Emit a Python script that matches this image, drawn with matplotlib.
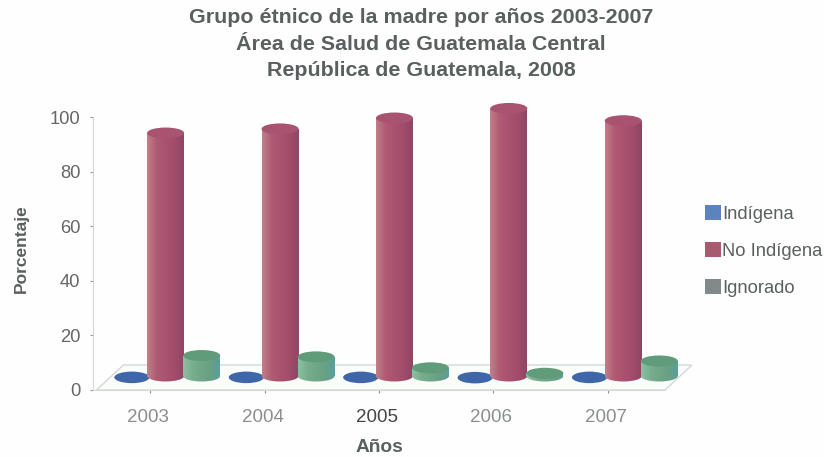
import matplotlib
matplotlib.use("Agg")
import matplotlib.pyplot as plt
import numpy as np
from matplotlib.colors import LinearSegmentedColormap
from matplotlib.patches import Ellipse, Polygon, Rectangle
from matplotlib.transforms import ScaledTranslation

years = ["2003", "2004", "2005", "2006", "2007"]
indigena = [0.5, 0.5, 0.5, 0.4, 0.5]
no_indigena = [89.0, 90.5, 94.5, 98.0, 93.5]
ignorado = [7.5, 7.0, 3.0, 1.0, 5.5]
yticks = [0, 20, 40, 60, 80, 100]
title = "Grupo étnico de la madre por años 2003-2007\nÁrea de Salud de Guatemala Central\nRepública de Guatemala, 2008"

plt.rcParams["font.family"] = ["Liberation Sans", "DejaVu Sans"]
W, H = 824, 457
fig = plt.figure(figsize=(W / 100, H / 100), dpi=100, facecolor="#fefefe")
ax = fig.add_axes([93 / W, 1 - 390 / H, 572 / W, 273 / H], facecolor="none")
ax.set_xlim(-0.5, 4.5)
ax.set_ylim(0, 100)
xpx = 572 / 5
ypx = 2.73

# floor of the 3D box
dx, dy = 27 / xpx, 25 / ypx
ax.add_patch(Polygon([(-0.47, 0), (4.5, 0), (4.5 + dx, dy), (-0.47 + dx, dy)], closed=True,
                     fc="#fbfdfb", ec="#d3dad6", lw=1.0, clip_on=False, zorder=1))

base = 14 / ypx   # bars stand part way into the floor depth
width = 37 / xpx
ell_h = 11 / ypx


def cylinder(xc, value, stops, top, z):
    cmap = LinearSegmentedColormap.from_list("c", stops)
    grad = np.linspace(0, 1, 64).reshape(1, -1)
    left, right = xc - width / 2, xc + width / 2
    y1 = base + value
    body = Rectangle((left, base), width, value, transform=ax.transData)
    foot = Ellipse((xc, base), width, ell_h, transform=ax.transData)
    for clip in (body, foot):
        im = ax.imshow(grad, extent=(left, right, base - ell_h, y1), cmap=cmap,
                       aspect="auto", origin="lower", zorder=z, interpolation="bilinear")
        im.set_clip_path(clip)
        if clip is foot:
            im.set_clip_box(fig.bbox)
    ax.add_patch(Ellipse((xc, y1), width, ell_h, fc=top, ec="none", zorder=z + 0.1, clip_on=False))


red = ["#c08088", "#b05a74", "#aa5370", "#a24c6a", "#8e4664"]
green = ["#8cc0a2", "#78ae8e", "#70a688", "#68a084", "#5c9e9e"]
for i in range(5):
    xc = i + 0.135
    ax.add_patch(Ellipse((xc - 0.295, base + indigena[i] - 1), width * 0.95, ell_h * 1.05,
                         fc="#3f66a9", ec="none", zorder=3, clip_on=False))
    cylinder(xc, no_indigena[i], red, "#a8536f", 4)
    cylinder(xc + 0.315, ignorado[i], green, "#619c7a", 5)

ax.set_xticks(range(5), years)
ax.set_yticks(yticks)
ax.tick_params(axis="x", length=2, colors="#8a8f8d", pad=12, labelsize=13.5)
ax.tick_params(axis="y", length=2, color="#999999", labelcolor="#666666", pad=7, labelsize=13.2)
shift = ScaledTranslation(-2 / 100, 0, fig.dpi_scale_trans)
for t in ax.get_xticklabels():
    t.set_transform(t.get_transform() + shift)
ax.get_xticklabels()[2].set_color("#444444")
for s in ["top", "right"]:
    ax.spines[s].set_visible(False)
ax.spines["left"].set_color("#d5d8d6")
ax.spines["bottom"].set_color("#d5dad7")

fig.text(421 / W, 1 - 44 / H, title, ha="center", va="center", fontsize=15.4, fontweight="bold",
         color="#5a5f5f", linespacing=1.48)
fig.text(379 / W, 1 - 447 / H, "Años", ha="center", va="center", fontsize=13.8, fontweight="bold", color="#5a5f5f")
fig.text(21 / W, 1 - 249 / H, "Porcentaje", ha="center", va="center", rotation=90, fontsize=12.5,
         fontweight="bold", color="#5a5f5f")

handles = [Rectangle((0, 0), 1, 1, fc=c, ec="none") for c in ["#5b83be", "#a85a70", "#808a88"]]
fig.legend(handles, ["Indígena", "No Indígena", "Ignorado"], loc="center left",
           bbox_to_anchor=(688 / W, 1 - 251 / H), frameon=False, fontsize=13.2, labelcolor="#5a5f5f",
           handlelength=0.9, handleheight=0.9, handletextpad=0.05, labelspacing=1.05)
fig.savefig("out.png", dpi=100, facecolor=fig.get_facecolor())
